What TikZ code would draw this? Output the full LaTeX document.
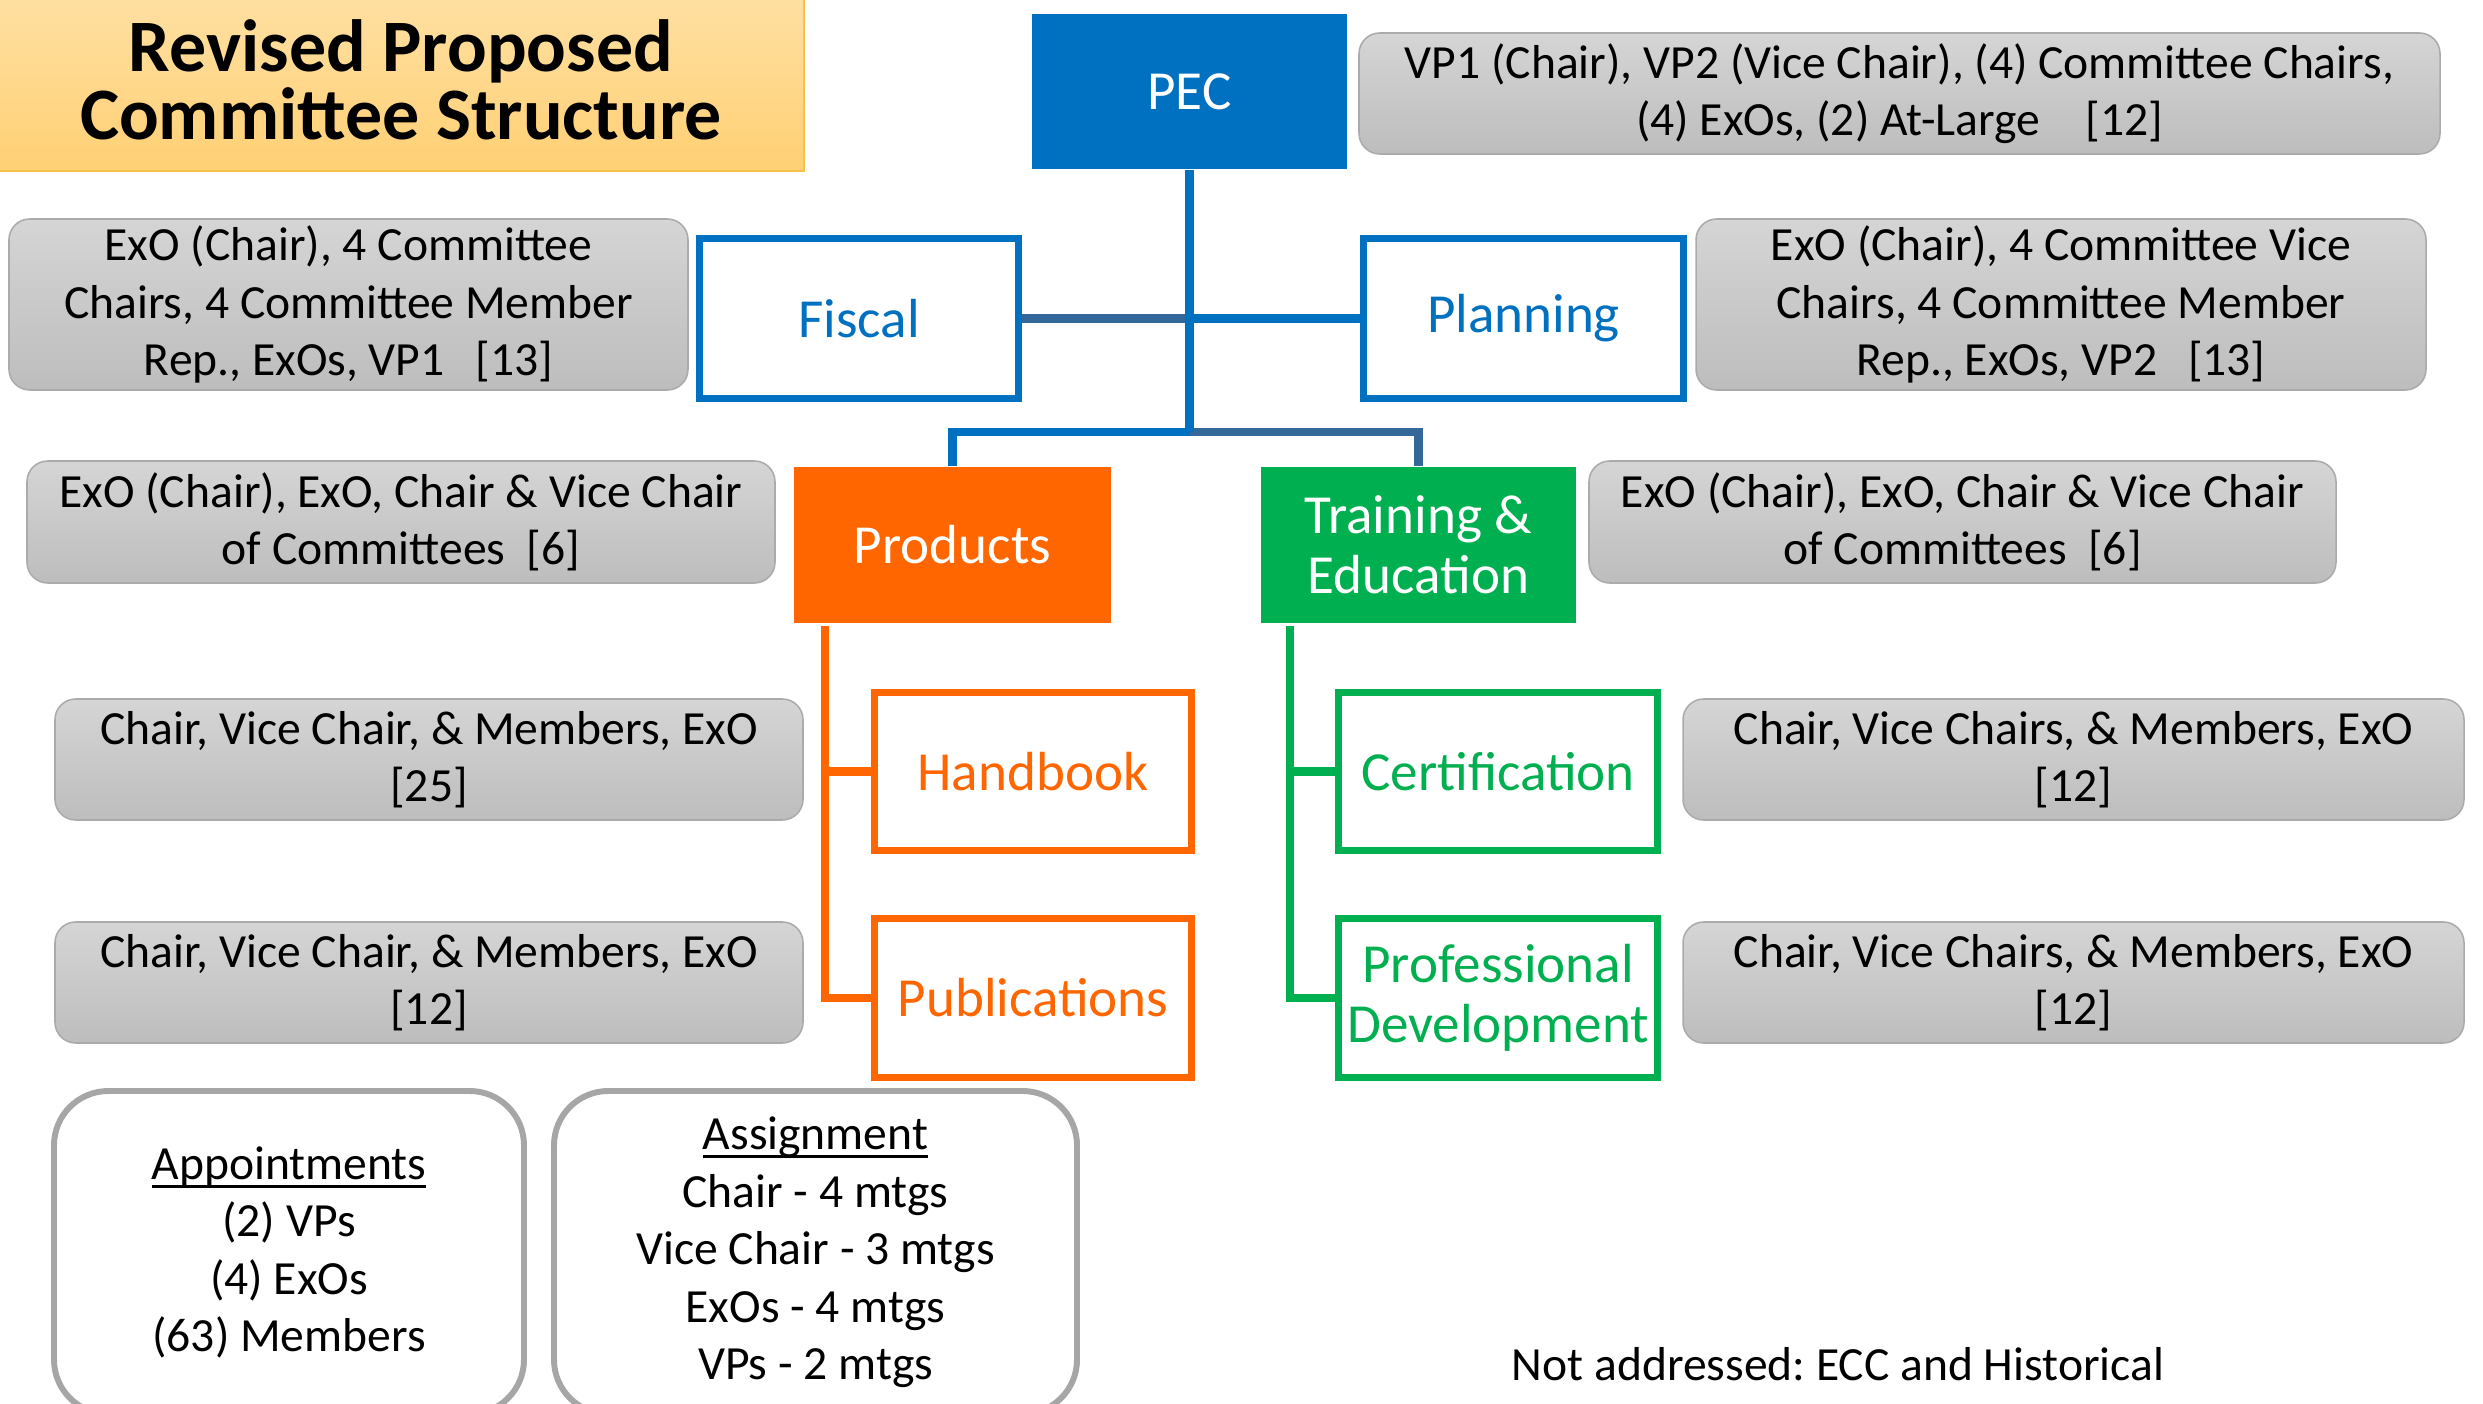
\documentclass[tikz,border=0pt]{standalone}
\usepackage{fontspec}
\setmainfont{Carlito}

\newcommand\myul[1]{\setbox0\hbox{#1}\rlap{\rule[-3.2pt]{\wd0}{1.1pt}}\box0}

\definecolor{pblue}{HTML}{0070C0}
\definecolor{pdark}{HTML}{34679A}
\definecolor{porange}{HTML}{FF6600}
\definecolor{pgreen}{HTML}{00B050}
\definecolor{gtop}{HTML}{D5D5D5}
\definecolor{gbot}{HTML}{BDBDBD}
\definecolor{gedge}{HTML}{ABABAB}
\definecolor{ttop}{HTML}{FFE0A3}
\definecolor{tbot}{HTML}{FFD074}
\definecolor{tedge}{HTML}{F8C048}
\definecolor{nedge}{HTML}{A6A6A6}

\begin{document}
\frenchspacing
\begin{tikzpicture}[x=0.3866pt, y=-0.3866pt,
  sz/.style 2 args={minimum width=#1*0.3866pt, minimum height=#2*0.3866pt},
  graytext/.style={font=\fontsize{18.4}{22.2}\selectfont, align=center},
  graybox/.style={rounded corners=8pt, draw=gedge, line width=0.6pt,
    top color=gtop, bottom color=gbot, inner sep=0pt, graytext},
  solidbox/.style={fill=#1, draw=none, text=white, inner sep=0pt, align=center,
    font=\fontsize{21.3}{23.2}\selectfont},
  openbox/.style={draw=#1, line width=2.7pt, fill=white, text=#1, inner sep=0pt,
    align=center, font=\fontsize{21.3}{23.2}\selectfont},
  link/.style={line width=3.2pt, draw=#1},
  notebox/.style={rounded corners=21pt, draw=nedge, line width=2.3pt, fill=white,
    inner sep=0pt, graytext},
]
\fill[white] (0,0) rectangle (2483,1404);
\clip (0,0) rectangle (2483,1404);
\useasboundingbox (0,0) rectangle (2483,1404);

% title
\fill[top color=ttop, bottom color=tbot] (-6,-6) rectangle (804,171);
\draw[tedge, line width=0.8pt] (-6,171) -- (804,171) -- (804,-6);
\node[font=\bfseries\fontsize{28.6}{26.3}\selectfont, align=center] (title) at (401,80)
  {Revised Proposed\\Committee Structure};

% main boxes
\node[solidbox=pblue, sz={315}{155}] (pec) at (1189.5,91.5) {PEC};
\node[openbox=pblue, sz={319}{160}] (fiscal) at (859,318.5) {Fiscal};
\node[openbox=pblue, sz={320}{160}] (planning) at (1523.5,318.5) {Planning};
\node[solidbox=porange, sz={317}{156}] (products) at (952.5,545) {Products};
\node[solidbox=pgreen, sz={315}{156}] (training) at (1418.5,545) {Training \&\\Education};
\node[openbox=porange, sz={317}{158}] (handbook) at (1033,771.5) {Handbook};
\node[openbox=porange, sz={317}{159}] (publications) at (1033,998) {Publications};
\node[openbox=pgreen, sz={319}{158}] (cert) at (1498,771.5) {Certification};
\node[openbox=pgreen, sz={319}{159}] (profdev) at (1498,998) {Professional\\Development};

% gray notes
\node[graybox, sz={1081}{121}] (vpnote) at (1899.5,93.5)
  {VP1 (Chair), VP2 (Vice Chair), (4) Committee Chairs,\\(4) ExOs, (2) At-Large\hspace{0.95em}[12]};
\node[graybox, sz={679}{171}] (fiscnote) at (348.5,304.5)
  {ExO (Chair), 4 Committee\\Chairs, 4 Committee Member\\Rep., ExOs, VP1\hspace{0.65em}[13]};
\node[graybox, sz={730}{171}] (plannote) at (2061,304.5)
  {ExO (Chair), 4 Committee Vice\\Chairs, 4 Committee Member\\Rep., ExOs, VP2\hspace{0.65em}[13]};
\node[graybox, sz={748}{122}] (prodnote) at (401,522)
  {ExO (Chair), ExO, Chair \& Vice Chair\\of Committees\hspace{0.45em}[6]};
\node[graybox, sz={747}{122}] (trainnote) at (1962.5,522)
  {ExO (Chair), ExO, Chair \& Vice Chair\\of Committees\hspace{0.45em}[6]};
\node[graybox, sz={748}{121}] (handnote) at (429,759.5)
  {Chair, Vice Chair, \& Members, ExO\\{}[25]};
\node[graybox, sz={748}{121}] (pubnote) at (429,982.5)
  {Chair, Vice Chair, \& Members, ExO\\{}[12]};
\node[graybox, sz={781}{121}] (certnote) at (2073.5,759.5)
  {Chair, Vice Chairs, \& Members, ExO\\{}[12]};
\node[graybox, sz={781}{121}] (pdnote) at (2073.5,982.5)
  {Chair, Vice Chairs, \& Members, ExO\\{}[12]};

% bottom notes
\node[notebox, sz={470}{323}] (appt) at (289,1252.5)
  {\myul{Appointments}\\(2) VPs\\(4) ExOs\\(63) Members};
\node[notebox, sz={523}{323}] (assign) at (815.5,1252.5)
  {\myul{Assignment}\\Chair - 4 mtgs\\Vice Chair - 3 mtgs\\ExOs - 4 mtgs\\VPs - 2 mtgs};
\node[graytext, anchor=base] (notaddr) at (1838,1380) {Not addressed: ECC and Historical};

% connectors
\coordinate (jn) at (1189.5,432);
\coordinate (mid) at (fiscal.east -| pec.south);
\coordinate (pstem) at (825,626);
\coordinate (tstem) at (1290,626);
\draw[link=pdark] (fiscal.east) -- (mid);
\draw[link=pblue] (mid) -- (planning.west);
\draw[link=pblue] (jn) -| (products.north);
\draw[link=pdark] (jn) -| (training.north);
\draw[link=pblue] (pec.south) -- (jn);
\draw[link=porange] (pstem) |- (handbook.west);
\draw[link=porange] (pstem) |- (publications.west);
\draw[link=pgreen] (tstem) |- (cert.west);
\draw[link=pgreen] (tstem) |- (profdev.west);
\end{tikzpicture}
\end{document}
